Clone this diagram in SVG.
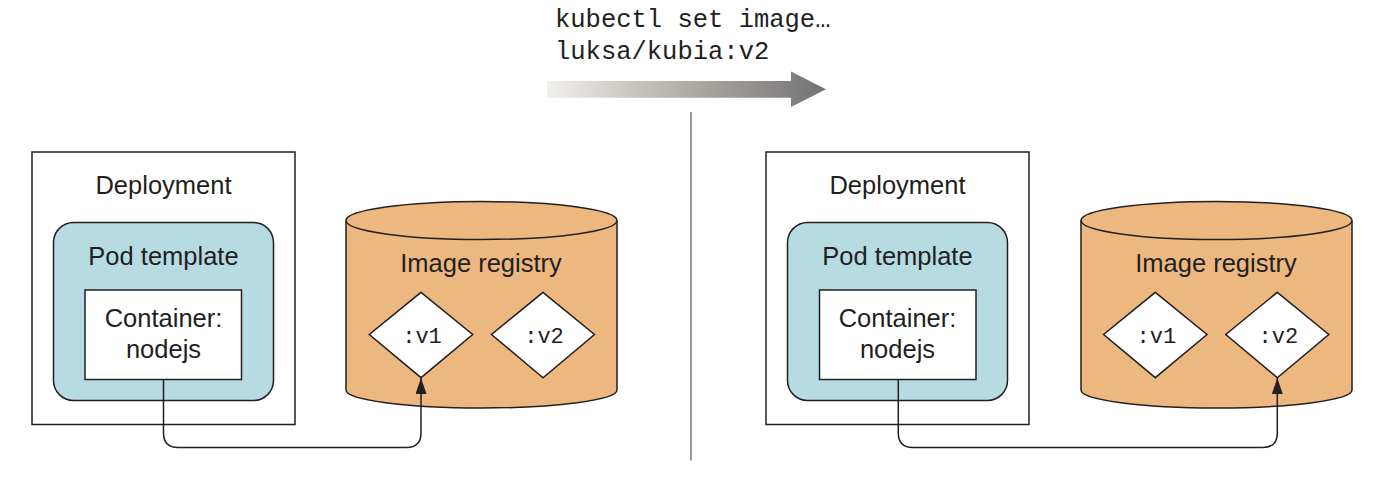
<svg xmlns="http://www.w3.org/2000/svg" width="1384" height="498" viewBox="0 0 1384 498">
  <defs>
    <linearGradient id="grad" gradientUnits="userSpaceOnUse" x1="547" y1="0" x2="826" y2="0">
      <stop offset="0" stop-color="#f1f0ec"/>
      <stop offset="0.5" stop-color="#b0aca6"/>
      <stop offset="1" stop-color="#737274"/>
    </linearGradient>
    <marker id="arrow" markerUnits="userSpaceOnUse" markerWidth="16" markerHeight="11" refX="16" refY="5.5" orient="auto">
      <path d="M0,0 L16,5.5 L0,11 z" fill="#231f20"/>
    </marker>
  </defs>
  <style>
    .box { fill: #ffffff; stroke: #231f20; stroke-width: 1.5; }
    .pod { fill: #b6dbe2; stroke: #231f20; stroke-width: 1.5; }
    .cyl { fill: #ecb880; stroke: #231f20; stroke-width: 1.5; }
    .dia { fill: #ffffff; stroke: #231f20; stroke-width: 1.5; }
    .lbl { font-family: "Liberation Sans", Arial, sans-serif; font-size: 25.5px; fill: #231f20; text-anchor: middle; }
    .mono { font-family: "Liberation Mono", "Courier New", monospace; font-size: 22px; fill: #231f20; text-anchor: middle; }
    .cmd { font-family: "Liberation Mono", "Courier New", monospace; font-size: 25.5px; fill: #231f20; }
    .conn { fill: none; stroke: #231f20; stroke-width: 1.5; }
  </style>

  <g id="command">
    <text class="cmd" x="555" y="27">kubectl set image…</text>
    <text class="cmd" x="555" y="59">luksa/kubia:v2</text>
    <path d="M547,81 H791 V71.5 L826,89.3 L791,107 V97.7 H547 z" fill="url(#grad)"/>
  </g>

  <g id="divider">
    <line x1="691" y1="112" x2="691" y2="460.5" stroke="#6b6b6b" stroke-width="1.4"/>
  </g>

  <!-- Left side -->
  <g id="deployment-left">
    <rect class="box" x="32" y="152" width="263" height="272.5"/>
    <text class="lbl" x="163.5" y="193.5">Deployment</text>
  </g>
  <g id="pod-template-left">
    <rect class="pod" x="53.5" y="222.5" width="220" height="178" rx="20" ry="20"/>
    <text class="lbl" x="163.5" y="265">Pod template</text>
  </g>
  <g id="container-left">
    <rect class="box" x="85" y="290" width="156.5" height="89.5"/>
    <text class="lbl" x="163.5" y="326.5">Container:</text>
    <text class="lbl" x="163.5" y="358">nodejs</text>
  </g>
  <g id="registry-left">
    <path class="cyl" d="M346,220.5 V390 A135.5,18 0 0 0 617,390 V220.5"/>
    <ellipse class="cyl" cx="481.5" cy="220.5" rx="135.5" ry="19"/>
    <text class="lbl" x="481" y="272">Image registry</text>
  </g>
  <g id="v1-left">
    <polygon class="dia" points="421,292.3 472.7,334.5 421,377.7 369.3,334.5"/>
    <text class="mono" x="422" y="342.5">:v1</text>
  </g>
  <g id="v2-left">
    <polygon class="dia" points="543,292.3 594.5,334.5 543,377.7 491.5,334.5"/>
    <text class="mono" x="544" y="342.5">:v2</text>
  </g>

  <!-- Right side -->
  <g id="deployment-right">
    <rect class="box" x="766" y="152" width="263" height="272.5"/>
    <text class="lbl" x="897.5" y="193.5">Deployment</text>
  </g>
  <g id="pod-template-right">
    <rect class="pod" x="787.5" y="222.5" width="220" height="178" rx="20" ry="20"/>
    <text class="lbl" x="897.5" y="265">Pod template</text>
  </g>
  <g id="container-right">
    <rect class="box" x="819.5" y="290" width="156.5" height="89.5"/>
    <text class="lbl" x="897.5" y="326.5">Container:</text>
    <text class="lbl" x="897.5" y="358">nodejs</text>
  </g>
  <g id="registry-right">
    <path class="cyl" d="M1081,220.5 V390 A135.5,18 0 0 0 1352,390 V220.5"/>
    <ellipse class="cyl" cx="1216.5" cy="220.5" rx="135.5" ry="19"/>
    <text class="lbl" x="1216" y="272">Image registry</text>
  </g>
  <g id="v1-right">
    <polygon class="dia" points="1155.3,292.3 1207,334.5 1155.3,377.7 1103.6,334.5"/>
    <text class="mono" x="1156.3" y="342.5">:v1</text>
  </g>
  <g id="v2-right">
    <polygon class="dia" points="1277.3,292.3 1328.8,334.5 1277.3,377.7 1225.8,334.5"/>
    <text class="mono" x="1278.3" y="342.5">:v2</text>
  </g>

  <g id="connectors">
    <path class="conn" marker-end="url(#arrow)" d="M163.5,379.5 V433 Q163.5,447.5 178,447.5 H406.5 Q421,447.5 421,433 V378"/>
    <path class="conn" marker-end="url(#arrow)" d="M898.3,379.5 V433 Q898.3,447.5 912.8,447.5 H1262.8 Q1277.3,447.5 1277.3,433 V378"/>
  </g>
</svg>
